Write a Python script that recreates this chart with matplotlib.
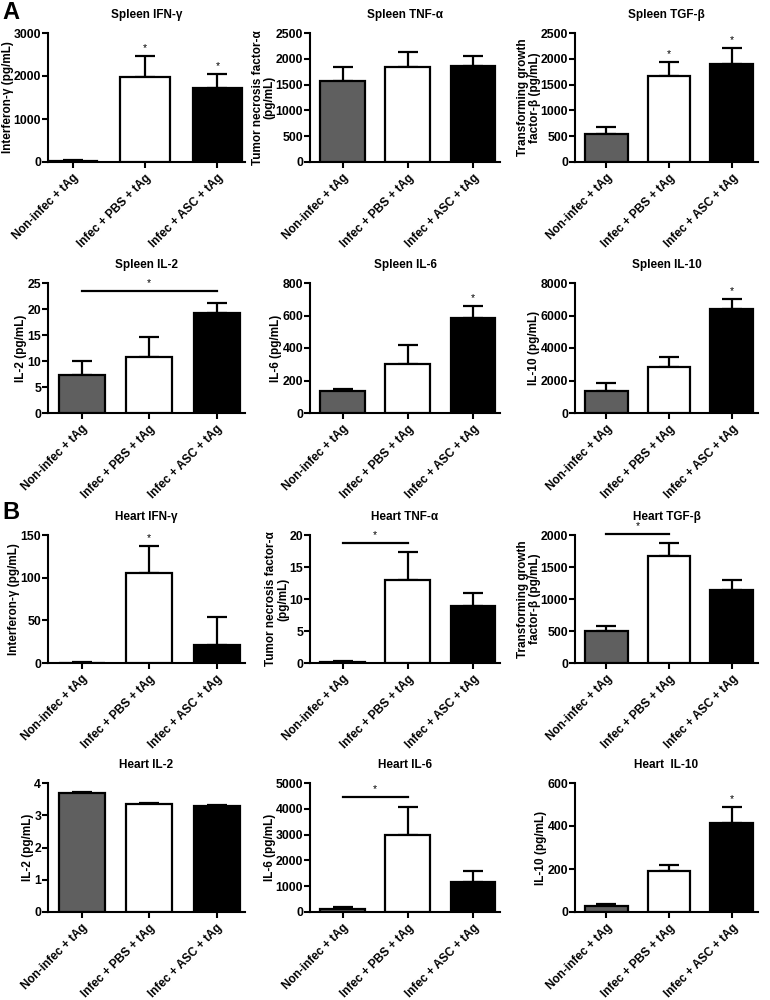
import matplotlib
matplotlib.use("Agg")
import numpy as np
from matplotlib import pyplot as plt

plt.rcParams["font.family"] = ["Liberation Sans", "DejaVu Sans"]
plt.rcParams["font.weight"] = "bold"

groups = ["Non-infec + tAg", "Infec + PBS + tAg", "Infec + ASC + tAg"]
bar_colors = ["#5f5f5f", "#ffffff", "#000000"]

# means and upper error (SEM)
spleen_ifng = [30, 1980, 1720]
spleen_ifng_err = [12, 490, 325]
spleen_tnfa = [1565, 1845, 1860]
spleen_tnfa_err = [280, 290, 200]
spleen_tgfb = [550, 1670, 1895]
spleen_tgfb_err = [125, 275, 315]
spleen_il2 = [7.4, 10.8, 19.2]
spleen_il2_err = [2.6, 3.8, 1.9]
spleen_il6 = [133, 301, 582]
spleen_il6_err = [12, 117, 77]
spleen_il10 = [1340, 2830, 6380]
spleen_il10_err = [500, 600, 650]

heart_ifng = [0.5, 106, 21.5]
heart_ifng_err = [0.3, 31, 32]
heart_tnfa = [0.17, 13.0, 8.85]
heart_tnfa_err = [0.15, 4.3, 2.1]
heart_tgfb = [494, 1673, 1143]
heart_tgfb_err = [78, 208, 156]
heart_il2 = [3.68, 3.35, 3.30]
heart_il2_err = [0.03, 0.04, 0.01]
heart_il6 = [100, 2990, 1165]
heart_il6_err = [110, 1070, 410]
heart_il10 = [29, 189, 416]
heart_il10_err = [7, 28, 73]

titles = ["Spleen IFN-γ", "Spleen TNF-α", "Spleen TGF-β",
          "Spleen IL-2", "Spleen IL-6", "Spleen IL-10",
          "Heart IFN-γ", "Heart TNF-α", "Heart TGF-β",
          "Heart IL-2", "Heart IL-6", "Heart  IL-10"]
ylabels = ["Interferon-γ (pg/mL)", "Tumor necrosis factor-α\n(pg/mL)",
           "Transforming growth\nfactor-β (pg/mL)",
           "IL-2 (pg/mL)", "IL-6 (pg/mL)", "IL-10 (pg/mL)",
           "Interferon-γ (pg/mL)", "Tumor necrosis factor-α\n(pg/mL)",
           "Transforming growth\nfactor-β (pg/mL)",
           "IL-2 (pg/mL)", "IL-6 (pg/mL)", "IL-10 (pg/mL)"]
means = [spleen_ifng, spleen_tnfa, spleen_tgfb, spleen_il2, spleen_il6, spleen_il10,
         heart_ifng, heart_tnfa, heart_tgfb, heart_il2, heart_il6, heart_il10]
errs = [spleen_ifng_err, spleen_tnfa_err, spleen_tgfb_err, spleen_il2_err,
        spleen_il6_err, spleen_il10_err, heart_ifng_err, heart_tnfa_err,
        heart_tgfb_err, heart_il2_err, heart_il6_err, heart_il10_err]
ymax = [3000, 2500, 2500, 25, 800, 8000, 150, 20, 2000, 4, 5000, 600]
ystep = [1000, 500, 500, 5, 200, 2000, 50, 5, 500, 1, 1000, 200]
# stars over single bars
stars = [[1, 2], [], [1, 2], [], [2], [2], [1], [], [], [], [], [2]]
# significance brackets: (panel, from, to, height)
brackets = [(3, 0, 2, 23.4), (7, 0, 1, 18.8), (8, 0, 1, 2020), (10, 0, 1, 4450)]

W, H = 770, 1000
col_left = [48, 310, 575]
col_right = [245, 500, 758]
row_top = [33, 283, 535, 783]
row_bot = [162, 413, 663, 912]

fig = plt.figure(figsize=(W / 100, H / 100), dpi=100)
axes = []
for i in range(12):
    r, c = divmod(i, 3)
    ax = fig.add_axes([col_left[c] / W, 1 - row_bot[r] / H,
                       (col_right[c] - col_left[c]) / W,
                       (row_bot[r] - row_top[r]) / H])
    axes.append(ax)
    x = np.arange(3)
    ax.bar(x, means[i], width=0.68, color=bar_colors, edgecolor="black",
           linewidth=1.6, zorder=3)
    ax.errorbar(x, means[i], yerr=[np.zeros(3), errs[i]], fmt="none",
                ecolor="black", elinewidth=1.6, capsize=7.5, capthick=1.6, zorder=2)
    if i == 0:
        ax.set_xlim(-0.34, 2.38)
    else:
        ax.set_xlim(-0.5, 2.42)
    ax.set_ylim(0, ymax[i])
    ax.set_yticks(np.arange(0, ymax[i] + ystep[i] / 2, ystep[i]))
    ax.set_xticks(x)
    ax.set_xticklabels(groups, rotation=45, ha="right", va="top",
                       rotation_mode="anchor", fontsize=8.5, fontweight="bold")
    ax.tick_params(axis="y", labelsize=8.8, width=1.5, length=4, pad=1)
    ax.tick_params(axis="x", width=1.5, length=4, pad=3)
    for s in ["top", "right"]:
        ax.spines[s].set_visible(False)
    for s in ["left", "bottom"]:
        ax.spines[s].set_linewidth(1.5)
    ax.set_title(titles[i], fontsize=8.5, fontweight="bold", pad=11)
    ax.set_ylabel(ylabels[i], fontsize=8.5, fontweight="bold", labelpad=0,
                  linespacing=1.0)
    for j in stars[i]:
        ax.annotate("*", (j, means[i][j] + errs[i][j]), xytext=(0, 2),
                    textcoords="offset points", ha="center", va="bottom",
                    fontsize=7.5, fontweight="normal", annotation_clip=False)

for p, a, b, h in brackets:
    ax = axes[p]
    ax.plot([a, b], [h, h], color="black", lw=1.6, clip_on=False)
    ax.annotate("*", ((a + b) / 2, h), xytext=(0, 2), textcoords="offset points",
                ha="center", va="bottom", fontsize=7.5, fontweight="normal",
                annotation_clip=False)

fig.text(2 / W, 1 - 1 / H, "A", fontsize=17, fontweight="bold", va="top")
fig.text(2 / W, 1 - 501 / H, "B", fontsize=17, fontweight="bold", va="top")

fig.savefig("out.png", dpi=100)
